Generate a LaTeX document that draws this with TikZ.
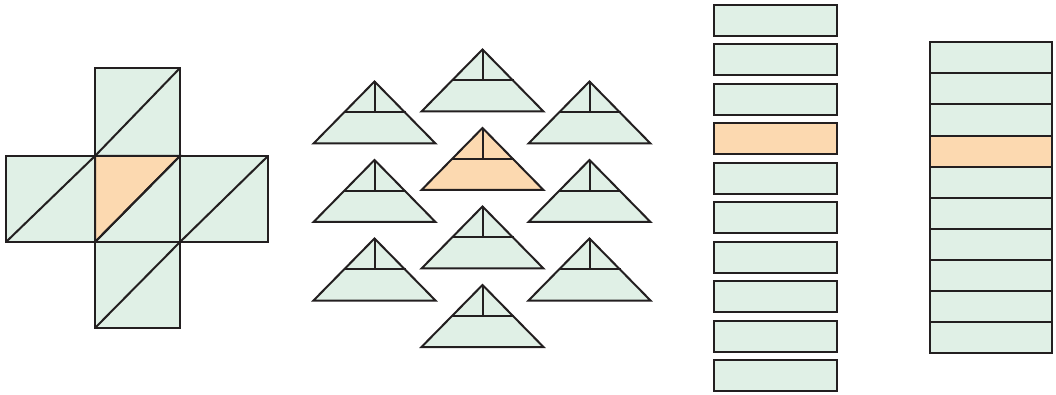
\documentclass[tikz,border=0pt]{standalone}
\usepackage{tikz}
\definecolor{lg}{RGB}{224,240,230}
\definecolor{lo}{RGB}{252,217,176}
\definecolor{lnc}{RGB}{35,31,32}
\tikzset{
  shp/.style={draw=lnc, line width=1.5pt, line join=miter},
  gfill/.style={shp, fill=lg},
  ofill/.style={shp, fill=lo},
  thk/.style={draw=lnc, line width=1.5pt}
}
\newcommand\mytri[3]{% apex x, apex y, fill style
  \path[#3] (#1-61,#2+62) -- (#1,#2) -- (#1+61,#2+62) -- cycle;
  \draw[thk] (#1-31,#2+31) -- (#1+31,#2+31);
  \draw[thk] (#1,#2) -- (#1,#2+31);
}
\begin{document}
\begin{tikzpicture}[x=0.75pt,y=-0.75pt]
\useasboundingbox (0,0) rectangle (1056,395);
% cross
\path[gfill] (95,68) rectangle (180,156);
\path[gfill] (6,156) rectangle (95,242);
\path[gfill] (95,156) rectangle (180,242);
\path[gfill] (180,156) rectangle (268,242);
\path[gfill] (95,242) rectangle (180,328);
\path[ofill] (95,156) -- (180,156) -- (95,242) -- cycle;
\draw[thk] (95,156) -- (180,68);
\draw[thk] (6,242) -- (95,156);
\draw[thk] (95,242) -- (180,156);
\draw[thk] (180,242) -- (268,156);
\draw[thk] (95,328) -- (180,242);
% triangles
\foreach \y in {81.5,160,238.5} {\mytri{374.5}{\y}{gfill}}
\foreach \y in {49.5,206.5,285} {\mytri{482.5}{\y}{gfill}}
\mytri{482.5}{128}{ofill}
\foreach \y in {81.5,160,238.5} {\mytri{589.5}{\y}{gfill}}
% separate bars
\foreach \i in {0,...,9} {
  \pgfmathsetmacro\yy{4.7+\i*39.5}
  \ifnum\i=3
    \path[ofill] (714,\yy) rectangle (837,\yy+31);
  \else
    \path[gfill] (714,\yy) rectangle (837,\yy+31);
  \fi
}
% stack
\foreach \i in {0,...,9} {
  \pgfmathsetmacro\yy{42.3+\i*31.1}
  \ifnum\i=3
    \path[ofill] (929.5,\yy) rectangle (1051.5,\yy+31.1);
  \else
    \path[gfill] (929.5,\yy) rectangle (1051.5,\yy+31.1);
  \fi
}
\end{tikzpicture}
\end{document}
